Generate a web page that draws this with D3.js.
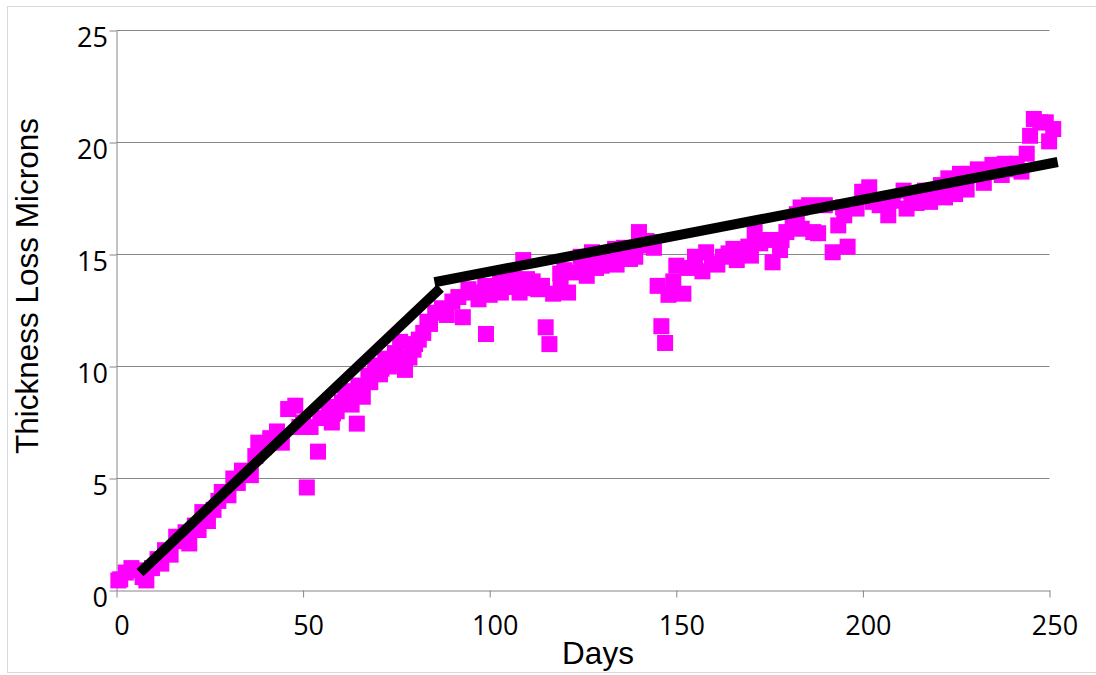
<!DOCTYPE html>
<html>
<head>
<meta charset="utf-8">
<script src="https://cdn.jsdelivr.net/npm/d3@7"></script>
<style>
  html, body { margin: 0; padding: 0; background: #fff; }
  svg { display: block; }
</style>
</head>
<body>
<svg id="chart" width="1096" height="675"></svg>
<script>
// Measured thickness loss (microns) by exposure day
const days = [
  0.5, 1, 2.5, 4, 5, 7, 8, 9.5, 11, 12, 13, 14.5, 16, 17, 18.5, 19.5, 21, 22, 23, 24.5,
  26, 27.3, 28.2, 30, 31.3, 32.5, 33.6, 35, 36, 37.2, 38, 39.5, 41.2, 43, 44.3, 46, 47.9, 49, 50, 51,
  52, 54, 54.6, 56.8, 57.7, 59, 60.4, 61.3, 62.5, 64.4, 64.8, 66, 67.5, 69.3, 70.6, 72, 73, 74.6, 76, 77.3,
  78.5, 79.6, 81, 82.2, 83.3, 84, 85.4, 87.2, 88.5, 90, 91.6, 92.8, 94.3, 95.6, 97, 98.8, 99, 101.4, 102.8, 104,
  105, 106.5, 107.7, 109, 110, 111.5, 113, 114, 115, 116, 117, 118.9, 120, 121, 122.9, 124.4, 126, 127.4, 128.5, 130,
  131.5, 133.6, 134, 135.5, 137.6, 138.5, 140, 141.5, 143.7, 145, 146, 147, 147.9, 149.2, 150, 151.9, 153.2, 155, 157, 158,
  159.5, 161, 162.5, 164, 165.3, 166.2, 167.5, 169.3, 170, 171, 172.5, 174.2, 175.8, 177.8, 178.2, 179.5, 181.2, 182.3, 183.3, 183.6,
  185.6, 186.7, 188, 189.8, 191.9, 193.4, 194.7, 195, 195.9, 198.3, 199.8, 201.7, 202.6, 204.5, 206.8, 208, 210.9, 211.7, 213, 214.4,
  216.6, 218, 219.5, 220.9, 222, 222.9, 224.7, 226, 227.8, 228, 230.8, 232.4, 233.5, 234.7, 236, 237.2, 238, 239.5, 241.2, 242.5,
  243.9, 244.8, 245.8, 247.5, 249, 249.9, 251,
  58, 63, 68, 71, 75, 80, 100, 103, 108, 112, 119, 125, 129, 132, 136, 139, 142, 144
];
const thickness = [
  0.45, 0.5, 0.8, 1.0, 0.9, 0.6, 0.45, 1.0, 1.4, 1.2, 1.8, 1.6, 2.4, 2.2, 2.6, 2.1, 2.9, 2.7, 3.5, 3.1,
  3.6, 4.0, 4.4, 4.25, 5.0, 4.8, 5.35, 5.3, 5.15, 6.0, 6.6, 6.4, 6.8, 7.1, 6.6, 8.1, 8.25, 7.3, 7.5, 4.6,
  7.3, 6.2, 7.7, 8.2, 7.5, 8.0, 8.4, 8.9, 8.6, 7.45, 9.15, 8.65, 9.6, 10.05, 9.65, 10.35, 10.0, 10.6, 11.1, 9.85,
  10.4, 10.75, 11.2, 11.5, 12.0, 11.9, 12.4, 12.6, 12.3, 12.9, 13.1, 12.2, 13.45, 13.3, 13.0, 13.6, 11.45, 13.45, 14.05, 13.7,
  13.55, 13.9, 13.65, 14.75, 13.9, 13.8, 13.45, 13.6, 11.75, 11.0, 13.25, 14.15, 14.3, 13.3, 14.2, 14.9, 14.05, 15.1, 14.4, 14.5,
  14.8, 15.25, 14.55, 15.0, 14.8, 15.2, 16.0, 15.4, 15.55, 13.6, 11.8, 11.05, 13.2, 13.8, 14.5, 13.25, 14.4, 14.9, 14.25, 15.1,
  14.6, 14.55, 14.9, 15.05, 15.25, 14.75, 15.1, 15.35, 14.95, 16.0, 15.5, 15.65, 14.65, 15.2, 15.65, 16.0, 16.4, 16.8, 17.1, 16.15,
  17.2, 16.0, 15.95, 17.2, 15.1, 16.3, 17.1, 16.75, 15.35, 17.05, 17.8, 18.0, 17.35, 17.2, 16.75, 17.4, 17.85, 17.05, 17.5, 17.3,
  17.85, 17.35, 17.7, 18.1, 17.55, 18.4, 17.7, 18.6, 17.9, 18.6, 18.8, 18.2, 18.7, 19.0, 18.7, 18.55, 19.05, 18.8, 19.05, 18.7,
  19.5, 20.3, 21.05, 20.9, 20.9, 20.05, 20.6,
  7.9, 8.3, 9.3, 9.9, 10.2, 11.0, 13.2, 13.3, 13.3, 13.5, 13.5, 14.5, 14.8, 14.6, 15.3, 14.9, 15.6, 15.3
];

// Two-stage linear fit: fast initial loss, then slower steady rate
const fitEarlyDays = [6.3, 86.8];
const fitEarlyLoss = [0.8, 13.5];
const fitLateDays = [85.2, 252.2];
const fitLateLoss = [13.76, 19.13];

const xTicks = [0, 50, 100, 150, 200, 250];
const yTicks = [0, 5, 10, 15, 20, 25];

const svg = d3.select("#chart");
const gridColor = "#868686";

const x = d3.scaleLinear().domain([0, 250]).range([116.5, 1049.5]);
const y = d3.scaleLinear().domain([0, 25]).range([590.5, 30.5]);

// outer frame
svg.append("rect")
  .attr("x", 7.5).attr("y", 6.5)
  .attr("width", 1090).attr("height", 666)
  .attr("fill", "none").attr("stroke", "#d9d9d9").attr("stroke-width", 1);

// horizontal gridlines
svg.append("g")
  .selectAll("line")
  .data(yTicks.filter(v => v > 0))
  .join("line")
  .attr("x1", x(0)).attr("x2", x(250))
  .attr("y1", d => y(d)).attr("y2", d => y(d))
  .attr("stroke", gridColor).attr("stroke-width", 1);

// y axis
const yAxis = svg.append("g")
  .attr("transform", `translate(${x(0)},0)`)
  .call(d3.axisLeft(y).tickValues(yTicks).tickSize(7).tickSizeOuter(0).tickFormat(d3.format("d")));
yAxis.select(".domain").attr("stroke", gridColor);
yAxis.selectAll(".tick line").attr("stroke", gridColor);
yAxis.selectAll(".tick text")
  .attr("x", -8.5).attr("dy", null).attr("y", 15.5)
  .attr("fill", "#000")
  .style("font-family", "'Open Sans', 'Noto Sans', sans-serif")
  .style("font-size", "27px");

// x axis
const xAxis = svg.append("g")
  .attr("transform", `translate(0,${y(0)})`)
  .call(d3.axisBottom(x).tickValues(xTicks).tickSize(7).tickSizeOuter(0).tickFormat(d3.format("d")));
xAxis.select(".domain").attr("stroke", gridColor);
xAxis.selectAll(".tick line").attr("stroke", gridColor);
xAxis.selectAll(".tick text")
  .attr("x", 5).attr("dy", null).attr("y", 44)
  .attr("fill", "#000")
  .style("font-family", "'Open Sans', 'Noto Sans', sans-serif")
  .style("font-size", "27px");

// measured points
const size = 16;
svg.append("g")
  .selectAll("rect")
  .data(days.map((d, i) => [d, thickness[i]]))
  .join("rect")
  .attr("x", d => x(d[0]) - size / 2)
  .attr("y", d => y(d[1]) - size / 2)
  .attr("width", size).attr("height", size)
  .attr("fill", "#ff00ff");

// fitted trend segments
const line = d3.line().x(d => x(d[0])).y(d => y(d[1]));
[[fitEarlyDays, fitEarlyLoss], [fitLateDays, fitLateLoss]].forEach(([ds, vs]) => {
  svg.append("path")
    .datum(ds.map((d, i) => [d, vs[i]]))
    .attr("d", line)
    .attr("fill", "none")
    .attr("stroke", "#000")
    .attr("stroke-width", 10)
    .attr("stroke-linecap", "butt");
});

// axis titles
svg.append("text")
  .attr("x", 598).attr("y", 664)
  .attr("text-anchor", "middle")
  .style("font-family", "'Liberation Sans', Arial, sans-serif")
  .style("font-size", "31.5px")
  .text("Days");

svg.append("text")
  .attr("transform", "translate(38,286) rotate(-90)")
  .attr("text-anchor", "middle")
  .style("font-family", "'Liberation Sans', Arial, sans-serif")
  .style("font-size", "31.5px")
  .text("Thickness Loss Microns");
</script>
</body>
</html>
